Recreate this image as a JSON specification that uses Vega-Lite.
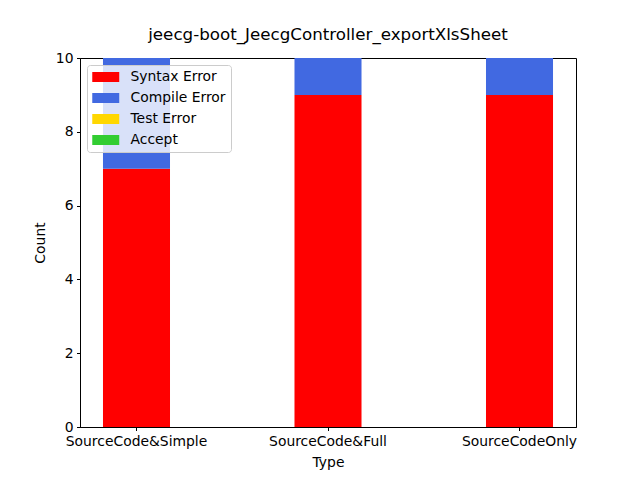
{
  "$schema": "https://vega.github.io/schema/vega-lite/v6.json",
  "width": 496,
  "height": 369,
  "autosize": {"type": "none"},
  "padding": {"left": 80, "top": 58, "right": 64, "bottom": 53},
  "background": "white",
  "title": {"text": "jeecg-boot_JeecgController_exportXlsSheet", "fontSize": 16.7, "fontWeight": "normal", "font": "DejaVu Sans", "offset": 7, "color": "black"},
  "config": {
    "font": "DejaVu Sans",
    "view": {"stroke": "black", "strokeWidth": 1},
    "axis": {"grid": false, "domainColor": "black", "tickColor": "black", "labelColor": "black", "titleColor": "black", "labelFontSize": 13.9, "titleFontSize": 13.9, "titleFontWeight": "normal", "tickSize": 3.5, "labelPadding": 3.5}
  },
  "data": {"values": [
    {"Type": "SourceCode&Simple", "Result": "Syntax Error", "Count": 7, "o": 0},
    {"Type": "SourceCode&Simple", "Result": "Compile Error", "Count": 3, "o": 1},
    {"Type": "SourceCode&Simple", "Result": "Test Error", "Count": 0, "o": 2},
    {"Type": "SourceCode&Simple", "Result": "Accept", "Count": 0, "o": 3},
    {"Type": "SourceCode&Full", "Result": "Syntax Error", "Count": 9, "o": 0},
    {"Type": "SourceCode&Full", "Result": "Compile Error", "Count": 1, "o": 1},
    {"Type": "SourceCode&Full", "Result": "Test Error", "Count": 0, "o": 2},
    {"Type": "SourceCode&Full", "Result": "Accept", "Count": 0, "o": 3},
    {"Type": "SourceCodeOnly", "Result": "Syntax Error", "Count": 9, "o": 0},
    {"Type": "SourceCodeOnly", "Result": "Compile Error", "Count": 1, "o": 1},
    {"Type": "SourceCodeOnly", "Result": "Test Error", "Count": 0, "o": 2},
    {"Type": "SourceCodeOnly", "Result": "Accept", "Count": 0, "o": 3}
  ]},
  "mark": {"type": "bar"},
  "encoding": {
    "x": {"field": "Type", "type": "nominal", "sort": ["SourceCode&Simple", "SourceCode&Full", "SourceCodeOnly"],
      "scale": {"paddingInner": 0.65, "paddingOuter": 0.12},
      "axis": {"labelAngle": 0, "title": "Type", "titlePadding": 8}},
    "y": {"field": "Count", "type": "quantitative", "stack": "zero",
      "scale": {"domain": [0, 10], "nice": false},
      "axis": {"values": [0, 2, 4, 6, 8, 10], "title": "Count", "titlePadding": 8}},
    "color": {"field": "Result", "type": "nominal",
      "scale": {"domain": ["Syntax Error", "Compile Error", "Test Error", "Accept"], "range": ["#FF0000", "#4169E1", "#FFD700", "#32CD32"]},
      "legend": {"title": null, "orient": "none", "legendX": 7, "legendY": 7,
        "symbolType": "M-1,-0.74H3V0.74H-1Z", "symbolSize": 182, "symbolStrokeWidth": 0,
        "labelFontSize": 13.9, "labelColor": "black", "rowPadding": 7, "labelOffset": 24.5,
        "fillColor": "rgba(255,255,255,0.8)", "strokeColor": "#cccccc", "padding": 5, "cornerRadius": 3}},
    "order": {"field": "o", "type": "quantitative"}
  }
}
